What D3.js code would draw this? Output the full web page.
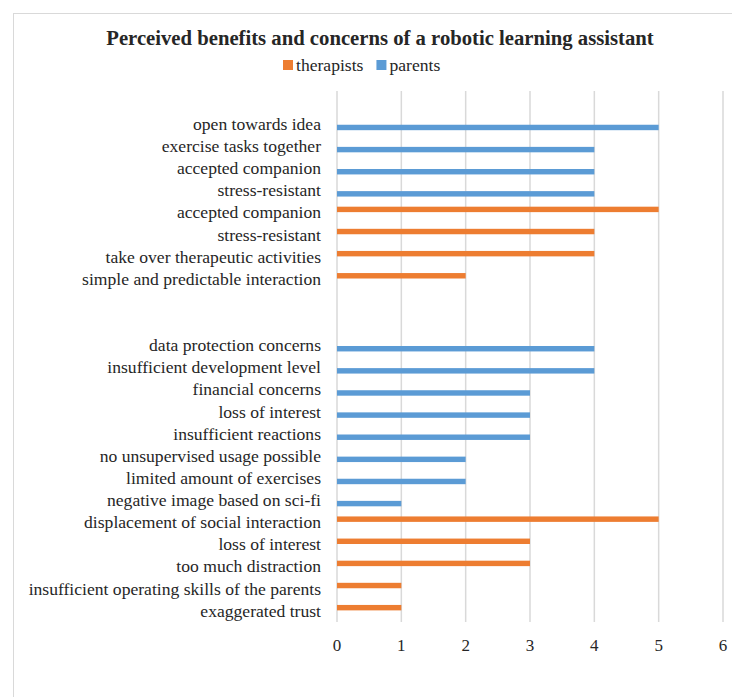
<!DOCTYPE html>
<html>
<head>
<meta charset="utf-8">
<script src="https://cdn.jsdelivr.net/npm/d3@7"></script>
<style>
  body { margin: 0; background: #fff; }
  svg text { font-family: "Liberation Serif", "DejaVu Serif", serif; fill: #262626; }
</style>
</head>
<body>
<svg id="chart" width="732" height="697"></svg>
<script>
// rows top to bottom, blank strings are empty rows
const categories = [
  "",
  "open towards idea", "exercise tasks together", "accepted companion", "stress-resistant",
  "accepted companion", "stress-resistant", "take over therapeutic activities",
  "simple and predictable interaction",
  "", "",
  "data protection concerns", "insufficient development level", "financial concerns",
  "loss of interest", "insufficient reactions", "no unsupervised usage possible",
  "limited amount of exercises", "negative image based on sci-fi",
  "displacement of social interaction", "loss of interest", "too much distraction",
  "insufficient operating skills of the parents", "exaggerated trust"
];
const therapists = [null, null, null, null, null, 5, 4, 4, 2, null, null,
  null, null, null, null, null, null, null, null, 5, 3, 3, 1, 1];
const parents = [null, 5, 4, 4, 4, null, null, null, null, null, null,
  4, 4, 3, 3, 3, 2, 2, 1, null, null, null, null, null];
const seriesNames = ["therapists", "parents"];
const seriesColors = ["#ed7d31", "#5b9bd5"];
const xTicks = [0, 1, 2, 3, 4, 5, 6];

const svg = d3.select("#chart");

const margin = {left: 337, right: 9, top: 91, bottom: 75};
const width = 732, height = 697;

// outer frame
svg.append("rect")
    .attr("x", 13.5).attr("y", 13.5)
    .attr("width", 740).attr("height", 700)
    .attr("fill", "none")
    .attr("stroke", "#d9d9d9");

const x = d3.scaleLinear()
    .domain([0, 6])
    .range([margin.left, width - margin.right]);

const y = d3.scaleBand()
    .domain(d3.range(categories.length))
    .range([margin.top, height - margin.bottom]);

const ySub = d3.scaleBand()
    .domain(seriesNames)
    .range([y.bandwidth() / 2 - 6, y.bandwidth() / 2 + 6])
    .paddingInner(0.17);

// gridlines
svg.append("g")
    .attr("stroke", "#d9d9d9")
    .attr("stroke-width", 1.5)
  .selectAll("line")
  .data(xTicks)
  .join("line")
    .attr("x1", d => x(d)).attr("x2", d => x(d))
    .attr("y1", margin.top).attr("y2", height - margin.bottom);

// bars
const rows = categories.map((c, i) => ({i, values: [therapists[i], parents[i]]}));
seriesNames.forEach((s, k) => {
  svg.append("g")
      .attr("fill", seriesColors[k])
    .selectAll("rect")
    .data(rows.filter(r => r.values[k] != null))
    .join("rect")
      .attr("x", x(0))
      .attr("y", d => y(d.i) + ySub(s))
      .attr("width", d => x(d.values[k]) - x(0))
      .attr("height", ySub.bandwidth());
});

// category labels
svg.append("g")
    .attr("font-size", 17.6)
    .attr("text-anchor", "end")
  .selectAll("text")
  .data(categories.map((c, i) => ({c, i})).filter(d => d.c))
  .join("text")
    .attr("x", margin.left - 16)
    .attr("y", d => y(d.i) + y.bandwidth() / 2)
    .attr("dy", "0.33em")
    .text(d => d.c);

// x tick labels
svg.append("g")
    .attr("font-size", 17)
    .attr("text-anchor", "middle")
  .selectAll("text")
  .data(xTicks)
  .join("text")
    .attr("x", d => x(d))
    .attr("y", 645)
    .attr("dy", "0.35em")
    .text(d => d);

// title
svg.append("text")
    .attr("x", 380)
    .attr("y", 38)
    .attr("dy", "0.35em")
    .attr("text-anchor", "middle")
    .attr("font-size", 20.7)
    .attr("font-weight", "bold")
    .text("Perceived benefits and concerns of a robotic learning assistant");

// legend
const legend = svg.append("g")
    .attr("font-size", 17.6);
let lx = 283;
seriesNames.forEach((s, k) => {
  legend.append("rect")
      .attr("x", lx).attr("y", 60)
      .attr("width", 10).attr("height", 10)
      .attr("fill", seriesColors[k]);
  const t = legend.append("text")
      .attr("x", lx + 13)
      .attr("y", 65)
      .attr("dy", "0.33em")
      .text(s);
  lx += 13 + t.node().getComputedTextLength() + 13;
});
</script>
</body>
</html>
